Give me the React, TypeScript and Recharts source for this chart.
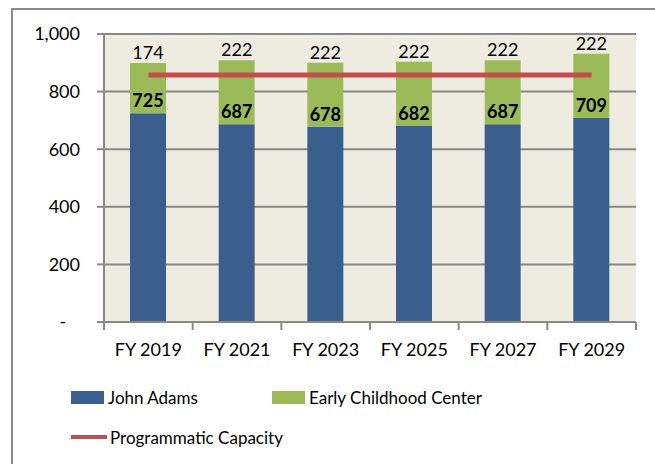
import { ComposedChart, Bar, Line, XAxis, YAxis, CartesianGrid, LabelList } from "recharts"

const years = ["FY 2019", "FY 2021", "FY 2023", "FY 2025", "FY 2027", "FY 2029"]
const johnAdams = [725, 687, 678, 682, 687, 709]
const earlyChildhood = [174, 222, 222, 222, 222, 222]
const capacity = [858, 858, 858, 858, 858, 858]
const yTicks = [0, 200, 400, 600, 800, 1000]

const BLUE = "#3A5F8E"
const GREEN = "#9BBB59"
const RED = "#C0504D"
const GRID = "#888888"
const FONT = "Lato, 'Noto Sans', sans-serif"

const W = 655
const H = 464
const M = { top: 34, right: 19, left: 0, bottom: 102 }
const Y_WIDTH = 104
const BAND = (W - Y_WIDTH - M.right - M.left) / years.length

const data = years.map((year, i) => ({
  year,
  ja: johnAdams[i],
  ecc: earlyChildhood[i],
  cap: capacity[i],
}))

const legendItems = [
  { name: "John Adams", color: BLUE, kind: "box", width: 201 },
  { name: "Early Childhood Center", color: GREEN, kind: "box", width: 320 },
  { name: "Programmatic Capacity", color: RED, kind: "line", width: 320 },
]

function XTick({ x, y, payload, index }: any) {
  const left = x - BAND / 2
  return (
    <g>
      <line x1={left} x2={left} y1={y} y2={y + 8} stroke={GRID} strokeWidth={2} />
      {index === years.length - 1 && (
        <line x1={left + BAND} x2={left + BAND} y1={y} y2={y + 8} stroke={GRID} strokeWidth={2} />
      )}
      <text x={x} y={y + 34} textAnchor="middle" fontSize={18} fontFamily={FONT} fill="#000">
        {payload.value}
      </text>
    </g>
  )
}

function BlueLabel({ x, y, width, value }: any) {
  return (
    <text x={x + width / 2} y={y - 6} textAnchor="middle" fontSize={18} fontWeight="bold" fontFamily={FONT} fill="#000">
      {value}
    </text>
  )
}

function GreenLabel({ x, y, width, value }: any) {
  return (
    <text x={x + width / 2} y={y - 4} textAnchor="middle" fontSize={18} fontFamily={FONT} fill="#000">
      {value}
    </text>
  )
}

const fmtY = (v: number) => (v === 0 ? "-\u00a0\u00a0\u00a0" : v.toLocaleString("en-US"))

export default function App() {
  return (
    <div style={{ position: "absolute", left: 0, top: 0, width: W, height: H, overflow: "hidden", background: "#fff" }}>
      <div style={{ position: "absolute", left: 11, top: 8, width: 800, height: 600, border: "2px solid #8c8c8c" }} />
      <div style={{ position: "absolute", left: 0, top: 0 }}>
        <ComposedChart width={W} height={H} data={data} margin={M}>
          <CartesianGrid vertical={false} stroke={GRID} strokeWidth={2} fill="#EEECE1" fillOpacity={1} />
          <XAxis
            dataKey="year"
            height={40}
            axisLine={{ stroke: GRID, strokeWidth: 2 }}
            tickLine={false}
            tickSize={0}
            tickMargin={0}
            tick={<XTick />}
            interval={0}
          />
          <YAxis
            width={Y_WIDTH}
            domain={[0, 1000]}
            ticks={yTicks}
            tickFormatter={fmtY}
            axisLine={{ stroke: GRID, strokeWidth: 2 }}
            tickLine={{ stroke: GRID, strokeWidth: 2 }}
            tickSize={7}
            tickMargin={17}
            tick={{ fontSize: 18, fontFamily: FONT, fill: "#000" }}
          />
          <Bar dataKey="ja" stackId="s" fill={BLUE} barSize={36} isAnimationActive={false}>
            <LabelList dataKey="ja" content={<BlueLabel />} />
          </Bar>
          <Bar dataKey="ecc" stackId="s" fill={GREEN} barSize={36} isAnimationActive={false}>
            <LabelList dataKey="ecc" content={<GreenLabel />} />
          </Bar>
          <Line dataKey="cap" stroke={RED} strokeWidth={5} dot={false} activeDot={false} isAnimationActive={false} />
        </ComposedChart>
      </div>
      <div style={{ position: "absolute", left: 71, top: 386, width: 560, display: "flex", flexWrap: "wrap", fontFamily: FONT, fontSize: 17, color: "#000", rowGap: 18 }}>
        {legendItems.map((item) => (
          <div key={item.name} style={{ display: "flex", alignItems: "center", width: item.width, height: 22, whiteSpace: "nowrap" }}>
            {item.kind === "box" ? (
              <span style={{ display: "inline-block", width: 33, height: 13, background: item.color, marginRight: 4 }} />
            ) : (
              <span style={{ display: "inline-block", width: 36, height: 4, background: item.color, marginRight: 3 }} />
            )}
            <span>{item.name}</span>
          </div>
        ))}
      </div>
    </div>
  )
}
